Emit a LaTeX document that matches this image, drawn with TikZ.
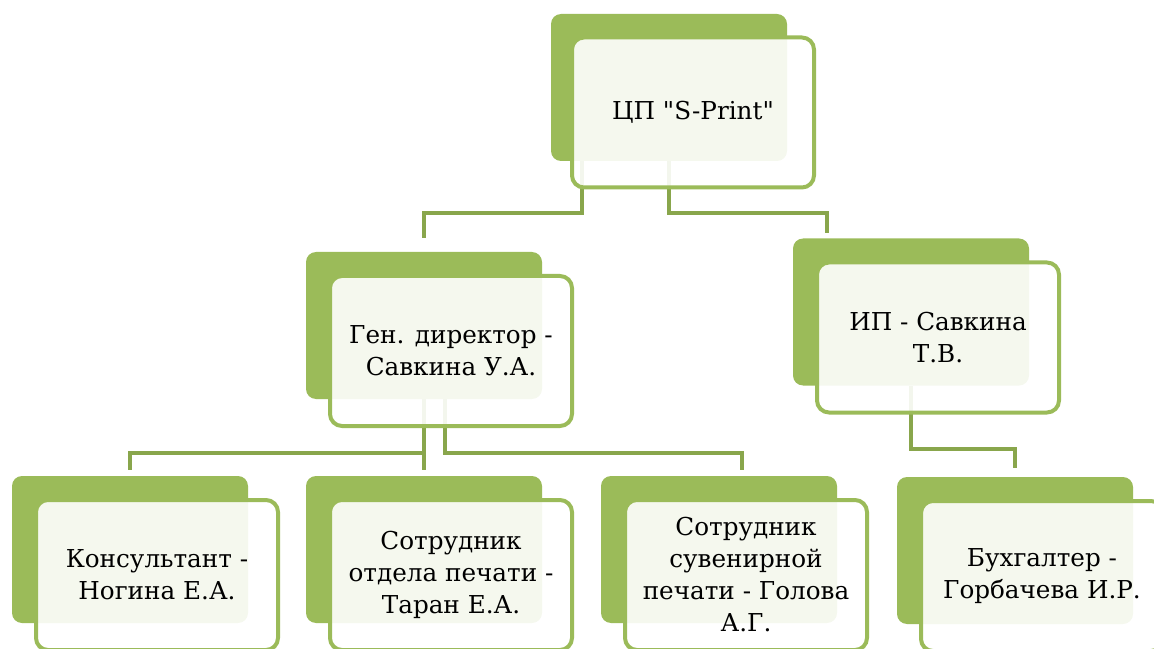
\documentclass[tikz,border=0pt]{standalone}
\usepackage{fontspec}
\newfontfamily\chartfont{DejaVu Serif}
\definecolor{leaf}{RGB}{155,187,89}
\definecolor{stem}{RGB}{137,166,76}

\begin{document}
\begin{tikzpicture}[
  x=0.75pt, y=-0.75pt,
  backbox/.style={fill=leaf, rounded corners=7.5pt, inner sep=0pt,
                  minimum width=177pt, minimum height=110.25pt},
  frontbox/.style={draw=leaf, line width=3pt, fill=white, fill opacity=0.9,
                   text opacity=1, rounded corners=9pt, inner sep=0pt,
                   minimum width=181.5pt, minimum height=112.5pt, align=center,
                   font=\chartfont\fontsize{18.5}{24}\selectfont},
  link/.style={draw=stem, line width=3.2pt}
]
\useasboundingbox (0,0) rectangle (1154,649);
\node[backbox] (cpback) at (669,87.5) {};
\node[backbox] (genback) at (424,325.5) {};
\node[backbox] (ipback) at (911,312) {};
\node[backbox] (konsback) at (130,549.5) {};
\node[backbox] (printback) at (424,549.5) {};
\node[backbox] (souvback) at (719,549.5) {};
\node[backbox] (buhback) at (1015,550.5) {};
\draw[link] ([shift={(31,0)}]cpback.south west) -- ++(0,52)
  -| ([shift={(0,-14)}]genback.north);
\draw[link] (cpback.south) -- ++(0,52) -| ([shift={(34,-5)}]ipback.north west);
\draw[link] (genback.south) -- ++(0,54) -| ([shift={(0,-6)}]konsback.north);
\draw[link] (genback.south) -- ([shift={(0,-6)}]printback.north);
\draw[link] ([shift={(21,0)}]genback.south) -- ++(0,54)
  -| ([shift={(141,-6)}]souvback.north west);
\draw[link] (ipback.south) -- ++(0,63) -| ([shift={(0,-9)}]buhback.north);
\node[frontbox] (cp) at ([shift={(24,25)}]cpback.center) {ЦП \char34 S-Print\char34};
\node[frontbox] (gen) at ([shift={(27,25.5)}]genback.center)
  {Ген. директор -\\Савкина У.А.};
\node[frontbox] (ip) at ([shift={(27,25.5)}]ipback.center) {ИП - Савкина\\Т.В.};
\node[frontbox] (kons) at ([shift={(27,25.5)}]konsback.center)
  {Консультант -\\Ногина Е.А.};
\node[frontbox] (print) at ([shift={(27,25.5)}]printback.center)
  {Сотрудник\\отдела печати -\\Таран Е.А.};
\node[frontbox] (souv) at ([shift={(27,25.5)}]souvback.center)
  {Сотрудник\\сувенирной\\печати - Голова\\А.Г.};
\node[frontbox] (buh) at ([shift={(27,25.5)}]buhback.center)
  {Бухгалтер -\\Горбачева И.Р.};
\end{tikzpicture}
\end{document}
